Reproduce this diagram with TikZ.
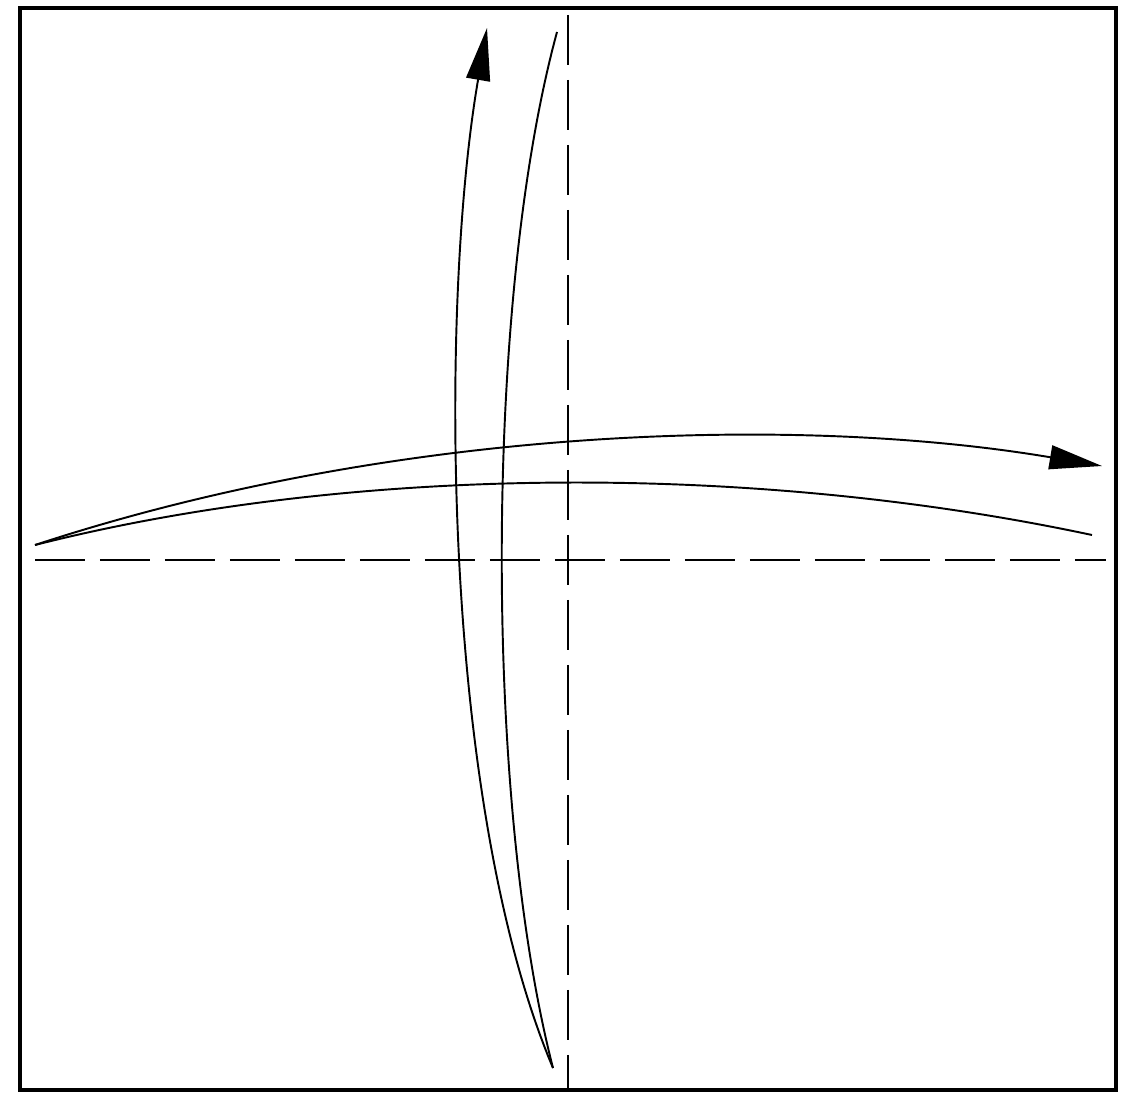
\documentclass[tikz,border=0pt]{standalone}
\usepackage{xcolor}
\usepackage{tikz}
\usetikzlibrary{arrows.meta}

\begin{document}
\begin{tikzpicture}[x=0.02cm,y=-0.02cm,
  foldline/.style={line width=1.1pt, dash pattern=on 1cm off 0.3cm},
  flap/.style={line width=1.1pt},
  foldarrow/.style={line width=1.1pt, -{Triangle[length=1.05cm,width=0.48cm]}}]
\useasboundingbox (0,0) rectangle (1131,1098);
% paper
\draw[line width=2.6pt] (20,8) rectangle (1116,1090);
% valley fold lines
\coordinate (vtop) at (568,15);
\coordinate (vbot) at (568,1090);
\coordinate (hleft) at (35,560);
\coordinate (hright) at (1106,560);
\draw[foldline] (vtop) -- (vbot);
\draw[foldline] (hleft) -- (hright);
% fold left edge over to the right
\coordinate (lpt) at (35,545);
\coordinate (rend) at (1092,535);
\coordinate (rtip) at (1102,466);
\draw[flap] (lpt) .. controls (350,465) and (750,462) .. (rend);
\draw[foldarrow] (lpt) .. controls (400,425) and (800,415) .. (rtip);
% fold bottom edge up
\coordinate (bpt) at (553,1068);
\coordinate (tend) at (557,32);
\coordinate (ttip) at (487,28);
\draw[flap] (bpt) .. controls (484,800) and (484,300) .. (tend);
\draw[foldarrow] (bpt) .. controls (440,800) and (440,300) .. (ttip);
\end{tikzpicture}
\end{document}
